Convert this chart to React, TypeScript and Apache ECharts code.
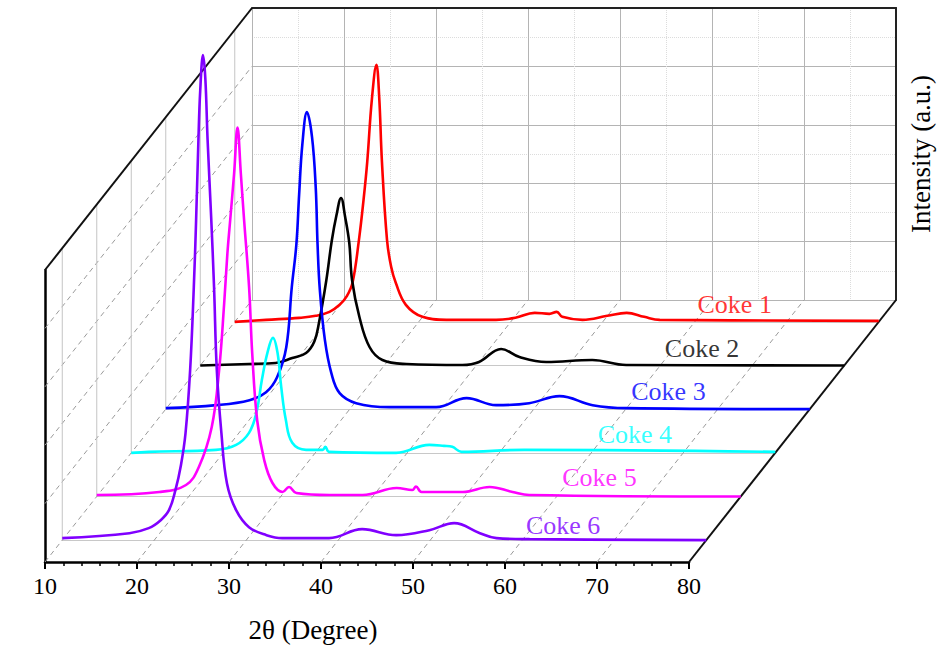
import React, { useEffect, useRef } from 'react';
import * as echarts from 'echarts';

// ---------- data ----------
const names = ['Coke 1', 'Coke 2', 'Coke 3', 'Coke 4', 'Coke 5', 'Coke 6'];
const colors = ['#ff0000', '#000000', '#0000ff', '#00ffff', '#ff00ff', '#8000ff'];

const coke1 = [[10, 0], [13.4, 2], [17.0, 4], [18.8, 6], [20.3, 10], [21.4, 17], [22.2, 26], [22.8, 39], [23.5, 82], [24.0, 122], [24.4, 160], [24.9, 222], [25.4, 257], [25.7, 225], [26.0, 160], [26.55, 82], [27.0, 55], [27.5, 39], [28.6, 17], [30.4, 5], [33.0, 2], [38.4, 2], [40.5, 4], [42.6, 9], [44.2, 8], [45.0, 10], [45.6, 5], [47.8, 2], [50.5, 6], [52.6, 9], [54.5, 5], [56.2, 2], [80, 1]];
const coke2 = [[10, 0], [15.3, 1.5], [18.2, 2.5], [20.0, 7.5], [21.5, 12.5], [22.4, 24], [22.9, 42.5], [23.7, 85], [24.3, 125], [24.8, 150], [25.3, 167.5], [25.75, 148.5], [26.2, 122.5], [26.5, 85.5], [27.3, 48.5], [28.4, 18.5], [29.8, 5.5], [32.4, 1.5], [38.5, 0.5], [40.3, 3.5], [42.7, 16.5], [44.7, 8.5], [47.6, 3.5], [52.6, 5.5], [56.3, 0.5], [80, 0]];
const coke3 = [[10, 1], [15.5, 4], [19.1, 9], [20.9, 17], [22.1, 32], [23.1, 62], [23.7, 122], [24.2, 165], [24.5, 215], [24.85, 265], [25.35, 297], [25.9, 272], [26.3, 222], [26.5, 165], [26.75, 119], [27.3, 69], [28.0, 36], [28.9, 16], [30.7, 6], [34.3, 2], [39.4, 2], [42.7, 11], [45.9, 4], [49.5, 6], [52.8, 13], [56.4, 4], [60.1, 1], [80, 0]];
const coke4 = [[10, 0], [11.9, 1], [19.2, 3], [21.4, 8], [22.8, 20], [23.6, 40], [24.2, 73], [24.8, 100], [25.4, 115], [25.9, 100], [26.3, 66], [26.8, 33], [27.5, 10], [29.0, 3], [30.8, 3], [31.1, 6], [31.5, 1], [38.8, 0], [42.4, 8], [44.0, 7], [44.9, 6], [45.9, 1], [52.7, 3], [80, 1]];
const coke5 = [[10, 1.5], [16.8, 4.5], [19.7, 11.5], [21.1, 29.5], [22.5, 69.5], [23.3, 126.5], [23.85, 193], [24.2, 243], [24.5, 276], [24.93, 323], [25.3, 369], [25.66, 323], [26.02, 276], [26.56, 209], [26.9, 143], [27.44, 76], [28.2, 36.5], [29.1, 13.5], [30.2, 4.5], [30.9, 9.5], [31.7, 3.5], [35.3, 1.5], [38.9, 1.5], [42.6, 8.5], [44.3, 6.5], [44.7, 10], [45.3, 4.5], [49.8, 4.5], [52.7, 9.5], [55.2, 4.5], [57.0, 1.5], [80, 0]];
const coke6 = [[10, 2], [17.3, 7], [19.4, 12], [20.7, 20], [21.6, 30], [22.3, 50], [22.9, 75], [23.4, 107], [23.9, 170], [24.3, 253], [24.55, 320], [24.8, 400], [25.0, 450], [25.3, 485], [25.55, 462], [25.8, 400], [26.2, 320], [26.5, 253], [26.8, 170], [27.3, 107], [27.9, 57], [28.9, 30], [30.3, 13], [32.2, 5], [33.9, 2], [39.0, 2], [42.6, 11], [46.3, 5], [49.9, 10], [52.6, 17], [55.4, 7], [57.2, 2], [60.8, 1], [80, 0]];
const seriesData = [coke1, coke2, coke3, coke4, coke5, coke6];

// label anchor (degree, intensity) for each series' name
const labelX = [60.3, 60.5, 60.6, 60.7, 60.6, 60.4];
const labelY = [17, 17.5, 18, 18, 19.5, 15];

const X_MIN = 10;
const X_MAX = 80;
const X_INTERVAL = 10;
const xTitle = '2θ (Degree)';
const yTitle = 'Intensity (a.u.)';

// ---------- layout ----------
const FRONT_LEFT = 45;
const FRONT_WIDTH = 644;
const FRONT_BOTTOM = 562;
const FRONT_HEIGHT = 292;
const DEPTH_DX = 207;
const DEPTH_DY = 262;
const SERIES_H = 300; // px height of each series' grid; y range 0..SERIES_H
const WALL_DIV = 5;
const FONT = '"Liberation Serif", "Times New Roman", serif';
const GRID_GRAY = '#b4b4b4';

export default function App() {
  const ref = useRef<HTMLDivElement>(null);
  useEffect(() => {
    const chart = echarts.init(ref.current!, null, { renderer: 'svg' });

    const grids: any[] = [];
    const xAxes: any[] = [];
    const yAxes: any[] = [];
    const series: any[] = [];
    const n = names.length;

    const depthFrac = (i: number) => (n - 1 - i + 0.5) / n;

    for (let i = 0; i < n; i++) {
      const f = depthFrac(i);
      const left = FRONT_LEFT + DEPTH_DX * f;
      const bottomY = FRONT_BOTTOM - DEPTH_DY * f;
      grids.push({ left, top: bottomY - SERIES_H, width: FRONT_WIDTH, height: SERIES_H });
      xAxes.push({
        gridIndex: i, type: 'value', min: X_MIN, max: X_MAX,
        axisLine: { show: true, onZero: false, lineStyle: { color: '#c8c8c8', width: 1 } },
        axisTick: { show: false }, axisLabel: { show: false }, splitLine: { show: false },
      });
      yAxes.push({ gridIndex: i, type: 'value', min: 0, max: SERIES_H, show: false });
      series.push({
        type: 'line', name: names[i], xAxisIndex: i, yAxisIndex: i,
        data: seriesData[i], showSymbol: false, symbol: 'none', clip: false,
        smooth: 0.4,
        lineStyle: { color: colors[i], width: 2.6 }, z: 10 + i, silent: true,
      });
      series.push({
        type: 'scatter', xAxisIndex: i, yAxisIndex: i, symbolSize: 0, silent: true, z: 20,
        data: [[labelX[i], labelY[i]]],
        label: {
          show: true, position: 'right', distance: 0, formatter: names[i],
          color: colors[i], fontSize: 26, fontFamily: FONT,
        },
      });
    }

    // front frame (index n)
    grids.push({ left: FRONT_LEFT, top: FRONT_BOTTOM - FRONT_HEIGHT, width: FRONT_WIDTH, height: FRONT_HEIGHT });
    xAxes.push({
      gridIndex: n, type: 'value', min: X_MIN, max: X_MAX, interval: X_INTERVAL,
      axisLine: { show: true, onZero: false, lineStyle: { color: '#000', width: 2.5 } },
      axisTick: { show: true, inside: false, length: 7, lineStyle: { color: '#000', width: 2 } },
      minorTick: { show: true, splitNumber: 5, length: 4, lineStyle: { color: '#000', width: 1.5 } },
      axisLabel: { color: '#000', fontSize: 24, fontFamily: FONT, margin: 12 },
      splitLine: { show: false },
    });
    yAxes.push({
      gridIndex: n, type: 'value', min: 0, max: WALL_DIV,
      axisLine: { show: true, onZero: false, lineStyle: { color: '#000', width: 2.5 } },
      axisTick: { show: false }, axisLabel: { show: false }, splitLine: { show: false },
    });

    // back wall (index n+1)
    grids.push({
      left: FRONT_LEFT + DEPTH_DX, top: FRONT_BOTTOM - FRONT_HEIGHT - DEPTH_DY,
      width: FRONT_WIDTH, height: FRONT_HEIGHT,
    });
    xAxes.push({
      gridIndex: n + 1, type: 'value', min: X_MIN, max: X_MAX, interval: X_INTERVAL, position: 'top',
      axisLine: { show: true, onZero: false, lineStyle: { color: '#222', width: 2 } },
      axisTick: { show: false }, axisLabel: { show: false },
      splitLine: { show: true, lineStyle: { color: GRID_GRAY, width: 1 } },
      minorTick: { show: false, splitNumber: 2 },
      minorSplitLine: { show: true, lineStyle: { color: '#dcdcdc', type: 'dotted', width: 1 } },
    });
    yAxes.push({
      gridIndex: n + 1, type: 'value', min: 0, max: WALL_DIV, interval: 1, position: 'right',
      axisLine: { show: true, onZero: false, lineStyle: { color: '#222', width: 2 } },
      axisTick: { show: false }, axisLabel: { show: false },
      splitLine: { show: true, lineStyle: { color: GRID_GRAY, width: 1 } },
      minorTick: { show: false, splitNumber: 2 },
      minorSplitLine: { show: true, lineStyle: { color: '#dcdcdc', type: 'dotted', width: 1 } },
    });

    // 3D frame decorations
    const graphic: any[] = [];
    const dashed = { stroke: '#9a9a9a', lineWidth: 1, lineDash: [5, 4] };
    const nX = (X_MAX - X_MIN) / X_INTERVAL;
    for (let k = 0; k < nX; k++) {
      const x0 = FRONT_LEFT + (FRONT_WIDTH * k) / nX;
      graphic.push({ type: 'line', z: 1, silent: true, shape: { x1: x0, y1: FRONT_BOTTOM, x2: x0 + DEPTH_DX, y2: FRONT_BOTTOM - DEPTH_DY }, style: dashed });
    }
    for (let j = 1; j < WALL_DIV; j++) {
      const y0 = FRONT_BOTTOM - (FRONT_HEIGHT * j) / WALL_DIV;
      graphic.push({ type: 'line', z: 1, silent: true, shape: { x1: FRONT_LEFT, y1: y0, x2: FRONT_LEFT + DEPTH_DX, y2: y0 - DEPTH_DY }, style: dashed });
    }
    for (let i = 0; i < n; i++) {
      const f = depthFrac(i);
      const x = FRONT_LEFT + DEPTH_DX * f;
      graphic.push({ type: 'line', z: 1, silent: true, shape: { x1: x, y1: FRONT_BOTTOM - DEPTH_DY * f, x2: x, y2: FRONT_BOTTOM - FRONT_HEIGHT - DEPTH_DY * f }, style: { stroke: '#c4c4c4', lineWidth: 1 } });
    }
    graphic.push({ type: 'line', z: 3, silent: true, shape: { x1: FRONT_LEFT, y1: FRONT_BOTTOM - FRONT_HEIGHT, x2: FRONT_LEFT + DEPTH_DX, y2: FRONT_BOTTOM - FRONT_HEIGHT - DEPTH_DY }, style: { stroke: '#111', lineWidth: 2 } });
    graphic.push({ type: 'line', z: 3, silent: true, shape: { x1: FRONT_LEFT + FRONT_WIDTH, y1: FRONT_BOTTOM, x2: FRONT_LEFT + FRONT_WIDTH + DEPTH_DX, y2: FRONT_BOTTOM - DEPTH_DY }, style: { stroke: '#111', lineWidth: 2 } });

    graphic.push({
      type: 'text', x: 313, y: 630, silent: true,
      style: { text: xTitle, fontSize: 27, fontFamily: FONT, fill: '#000', textAlign: 'center', textVerticalAlign: 'middle', align: 'center', verticalAlign: 'middle' },
    });
    graphic.push({
      type: 'text', x: 921, y: 154, rotation: Math.PI / 2, silent: true,
      style: { text: yTitle, fontSize: 27, fontFamily: FONT, fill: '#000', textAlign: 'center', textVerticalAlign: 'middle', align: 'center', verticalAlign: 'middle' },
    });

    chart.setOption({
      animation: false,
      backgroundColor: '#ffffff',
      grid: grids,
      xAxis: xAxes,
      yAxis: yAxes,
      series,
      graphic,
    });
    return () => chart.dispose();
  }, []);
  return <div ref={ref} style={{ position: 'fixed', left: 0, top: 0, width: 946, height: 647 }} />;
}
